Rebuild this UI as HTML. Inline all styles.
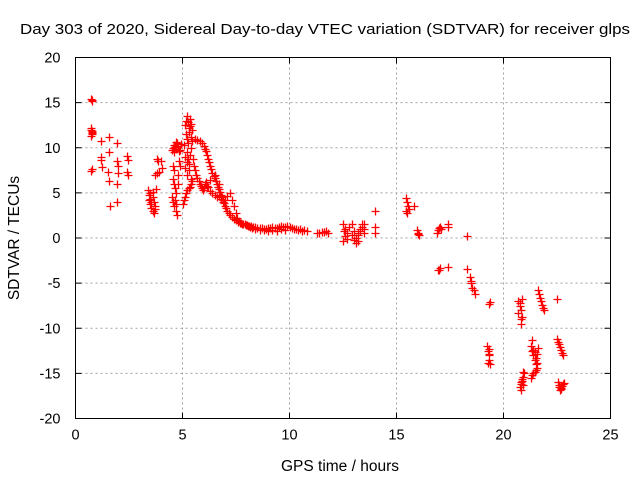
<!DOCTYPE html>
<html><head><meta charset="utf-8"><style>
body{margin:0;background:#fff}
svg{display:block;font-family:"Liberation Sans",Arial,sans-serif}
</style></head><body>
<svg id="chart" width="640" height="480" viewBox="0 0 640 480">
<rect width="640" height="480" fill="#fff"/>
<g id="grid"></g>
<g id="marks"></g>
<rect x="75.5" y="57.5" width="535" height="361" fill="none" stroke="#000"/>
<g id="ticks"></g>
<text x="20" y="34" font-size="15" textLength="610" lengthAdjust="spacingAndGlyphs">Day 303 of 2020, Sidereal Day-to-day VTEC variation (SDTVAR) for receiver glps</text>
<text x="340" y="471" font-size="15.5" text-anchor="middle">GPS time / hours</text>
<text transform="translate(19,238) rotate(-90)" font-size="15.5" text-anchor="middle">SDTVAR / TECUs</text>
</svg>
<script>
const xTicks=[0,5,10,15,20,25];
const yTicks=[-20,-15,-10,-5,0,5,10,15,20];
const points=[
[0.72,15.4],[0.75,15.2],[0.78,15.3],[0.73,12.2],[0.75,11.9],[0.78,11.6],[0.72,11.3],[0.76,11.8],[0.74,12.0],[0.77,11.5],[0.75,7.6],[0.73,7.4],
[1.2,10.8],[1.2,9.0],[1.25,7.9],[1.2,8.6],[1.55,11.2],[1.55,9.5],[1.5,7.3],[1.55,6.3],[1.6,3.5],[1.95,10.5],[1.95,8.5],[2.0,7.2],[1.95,6.0],[1.95,4.0],[2.0,8.0],
[2.4,9.1],[2.45,8.6],[2.4,7.3],[2.45,7.0],
[3.4,5.3],[3.45,4.8],[3.5,4.3],[3.5,3.8],[3.55,3.3],[3.6,3.0],[3.6,4.5],[3.65,2.8],[3.7,3.5],[3.5,5.0],[3.55,4.0],[3.45,4.2],[3.6,5.1],[3.7,3.2],[3.65,4.0],
[3.8,8.7],[3.8,7.2],[3.85,8.5],[3.9,7.3],[3.75,5.4],[4.0,8.5],[4.05,7.8],[3.7,7.0],
[4.5,9.8],[4.55,10.0],[4.6,10.3],[4.65,10.1],[4.7,9.9],[4.75,10.5],[4.8,10.2],[4.85,9.6],[4.9,9.8],[4.95,10.4],[4.6,9.5],[4.7,10.6],
[4.55,8.0],[4.6,7.5],[4.55,6.5],[4.6,6.0],[4.65,5.5],[4.5,4.5],[4.55,4.0],[4.6,3.5],[4.7,3.0],[4.75,2.5],[4.7,5.0],[4.8,7.0],[4.8,6.0],[4.85,8.5],[4.9,8.0],[4.65,4.2],[4.7,3.8],
[5.0,3.8],[5.05,4.2],[5.1,4.5],[5.15,5.0],[5.2,5.3],[5.3,5.5],[5.35,5.7],[5.4,6.0],[5.45,6.3],
[5.1,12.5],[5.15,13.0],[5.2,13.5],[5.25,12.8],[5.3,12.2],[5.35,13.2],[5.4,12.6],[5.45,12.0],[5.15,11.5],[5.2,11.0],[5.25,10.5],[5.3,11.8],[5.35,12.4],[5.4,10.0],
[5.2,9.5],[5.25,8.8],[5.3,8.2],[5.35,9.2],[5.1,7.8],[5.2,7.0],[5.3,7.5],[5.4,6.5],[5.05,10.3],[5.1,9.0],[5.2,8.4],[5.4,11.2],[5.45,10.8],
[5.6,11.0],[5.7,10.9],[5.8,10.7],[5.9,10.5],[6.0,10.2],[6.05,9.9],[6.1,9.6],[6.15,9.2],[6.2,8.8],[6.25,8.4],[6.3,8.0],[6.35,7.6],[6.4,7.2],[6.45,6.9],[6.5,6.6],
[6.55,6.3],[6.6,6.0],[6.65,5.7],[6.7,5.4],[6.75,5.1],[6.8,4.8],[6.85,4.5],[6.9,4.2],[6.95,3.9],[7.0,3.6],[7.05,3.3],[7.1,3.0],[7.15,2.8],[7.2,2.6],[7.3,2.3],
[7.4,2.1],[7.5,2.0],[7.6,1.8],[7.7,1.7],[7.8,1.6],[7.9,1.5],[8.0,1.4],[8.1,1.3],[8.2,1.3],[8.3,1.2],[8.4,1.2],[8.5,1.1],[8.6,1.1],[8.7,1.1],[8.8,1.0],[8.9,1.0],
[9.0,1.1],[9.1,1.1],[9.2,1.2],[9.3,1.1],[9.4,1.1],[9.5,1.2],[9.6,1.3],[9.7,1.2],[9.8,1.2],[9.9,1.3],[10.0,1.2],[10.1,1.1],[10.2,1.0],[10.3,1.0],[10.4,0.9],[10.5,1.0],
[10.6,0.8],[10.7,0.9],[10.8,0.8],[11.3,0.6],[11.4,0.6],[11.5,0.7],[11.6,0.7],[11.7,0.8],[11.8,0.6],
[5.5,8.8],[5.55,8.0],[5.6,7.5],[5.65,7.0],[5.7,6.6],[5.75,6.3],[5.8,6.0],[5.85,5.8],[5.9,5.5],[5.95,5.3],[6.0,5.5],[6.05,6.0],[6.1,6.2],[6.15,5.8],[6.2,5.6],
[6.3,5.2],[6.4,5.0],[6.5,4.8],[6.6,4.5],[6.7,4.6],[6.8,4.3],[6.9,4.0],[7.0,4.2],[7.1,4.6],[7.2,5.0],[7.3,4.2],[7.4,3.5],[7.5,2.8],[6.3,6.4],[6.5,7.0],[6.7,6.0],
[7.55,2.2],[7.65,1.9],[7.75,1.7],[7.85,1.5],[7.95,1.4],[8.05,1.3],[8.15,1.2],[8.25,1.1],[8.4,1.0],[8.6,0.9],[8.8,0.9],[9.0,0.8],[9.2,0.9],[9.4,0.8],[9.6,1.0],[9.8,0.9],
[12.5,1.5],[12.55,0.8],[12.6,0.2],[12.5,-0.3],[12.6,1.0],[12.7,0.5],[12.8,1.2],[12.9,0.3],[13.0,-0.2],[12.9,1.5],[13.0,0.8],[13.1,0.0],[13.2,0.5],[13.3,1.0],
[13.4,1.5],[13.1,-0.5],[13.2,0.3],[13.3,0.8],[13.4,1.2],[13.5,1.6],[13.5,0.5],[13.5,1.0],[14.0,3.0],[14.0,1.2],[14.0,0.6],[12.7,-0.1],[13.2,-0.3],
[15.45,4.4],[15.5,4.0],[15.55,3.6],[15.45,3.0],[15.5,2.8],[15.6,3.2],[15.8,3.5],[15.95,0.9],[16.0,0.6],[16.05,0.3],[16.0,0.4],
[16.9,0.6],[16.95,0.9],[17.0,1.1],[17.05,1.2],[17.1,1.0],[17.4,1.6],[17.4,1.2],[17.0,-3.5],[17.05,-3.3],[16.95,-3.6],[17.4,-3.2],[18.3,0.2],[18.3,-3.4],
[18.45,-4.3],[18.5,-5.0],[18.55,-5.5],[18.6,-5.8],[18.65,-6.2],[18.5,-4.8],[19.3,-7.3],[19.35,-7.1],
[19.25,-12.0],[19.28,-12.5],[19.3,-13.0],[19.32,-13.5],[19.35,-14.0],[19.3,-12.8],[19.28,-13.8],[19.32,-12.3],
[20.7,-7.0],[20.75,-7.5],[20.8,-8.0],[20.85,-8.8],[20.8,-9.5],[20.75,-7.2],[20.7,-8.3],[20.8,-9.0],[20.85,-6.8],
[20.75,-16.5],[20.8,-16.2],[20.85,-15.8],[20.9,-15.4],[20.95,-15.0],[20.8,-16.0],[20.85,-15.6],[20.9,-14.8],[20.8,-16.8],[20.9,-16.3],
[21.3,-12.0],[21.35,-12.5],[21.4,-13.0],[21.45,-12.6],[21.5,-13.3],[21.55,-12.8],[21.6,-12.2],[21.35,-11.3],[21.45,-13.5],[21.5,-14.0],[21.55,-13.8],[21.4,-12.4],
[21.3,-15.5],[21.35,-15.2],[21.4,-15.0],[21.45,-14.8],[21.5,-14.6],[21.55,-14.4],
[21.6,-5.8],[21.65,-6.2],[21.7,-6.6],[21.75,-7.0],[21.8,-7.4],[21.85,-7.8],[21.9,-8.0],
[22.5,-6.8],[22.5,-11.2],[22.55,-11.5],[22.6,-11.8],[22.65,-12.1],[22.7,-12.4],[22.75,-12.7],[22.8,-13.0],
[22.55,-16.0],[22.6,-16.5],[22.65,-16.8],[22.7,-16.6],[22.75,-16.4],[22.8,-16.2],[22.85,-16.1],[22.6,-16.3],[22.7,-16.7]];
const L=75.5,R=610.5,T=57.5,B=418.5;
const xS=h=>L+h/25*(R-L);
const yS=v=>B-(v+20)/40*(B-T);
const NS='http://www.w3.org/2000/svg';
const grid=document.getElementById('grid'),ticks=document.getElementById('ticks'),marks=document.getElementById('marks');
function mk(tag,attrs,parent){const e=document.createElementNS(NS,tag);for(const k in attrs)e.setAttribute(k,attrs[k]);parent.appendChild(e);return e;}
xTicks.forEach((t,i)=>{const x=xS(t);
if(i>0&&i<xTicks.length-1){const g=mk('line',{x1:x,y1:T,x2:x,y2:B,stroke:'#a0a0a0','stroke-dasharray':'2,3'},grid);

}
const a=mk('path',{d:`M${x},${B}v-6M${x},${T}v6`,stroke:'#000'},ticks);


const tx=mk('text',{x:x,y:B+21,'font-size':14.5,'text-anchor':'middle'},ticks);tx.textContent=t;

});
yTicks.forEach((t,i)=>{const y=yS(t);
if(i>0&&i<yTicks.length-1){const g=mk('line',{x1:L,y1:y,x2:R,y2:y,stroke:'#a0a0a0','stroke-dasharray':'2,3'},grid);

}
const a=mk('path',{d:`M${L},${y}h6M${R},${y}h-6`,stroke:'#000'},ticks);


const tx=mk('text',{x:L-15,y:y+5,'font-size':14.5,'text-anchor':'end'},ticks);tx.textContent=t;

});
let d='';
for(const [h,v] of points){const x=Math.round(xS(h))+0.5,y=Math.round(yS(v))+0.5;d+=`M${x-4},${y}h8M${x},${y-4}v8`;}
const p=mk('path',{d:d,stroke:'#ff0000','stroke-width':1.3,fill:'none'},marks);


</script>
</body></html>
